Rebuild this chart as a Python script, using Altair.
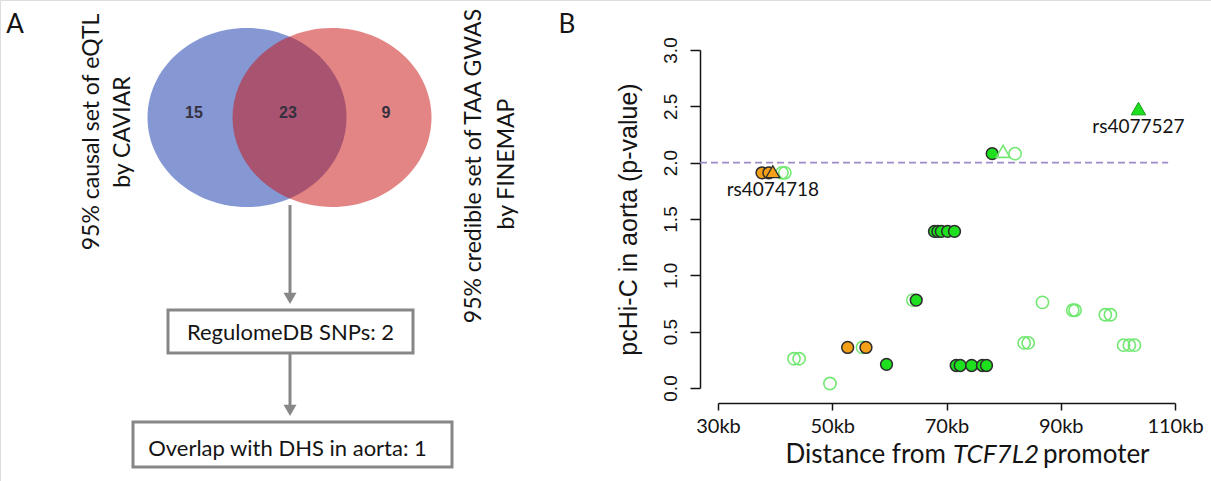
import altair as alt
import pandas as pd

# ---------------- Panel A data ----------------
venn_counts = [15, 23, 9]
left_set_lines = ["95% causal set of eQTL", "by CAVIAR"]
right_set_lines = ["95% credible set of TAA GWAS", "by FINEMAP"]
flow_steps = ["RegulomeDB SNPs: 2", "Overlap with DHS in aorta: 1"]
panel_letters = ["A", "B"]

# ---------------- Panel B data (kb from TCF7L2 promoter, pcHi-C p-value) ----------------
filled_kb = [78.0, 67.9, 68.5, 69.1, 70.2, 71.4, 64.7, 59.5, 71.7, 72.4, 74.4, 76.3, 77.0]
filled_p = [2.08, 1.39, 1.39, 1.39, 1.39, 1.39, 0.78, 0.21, 0.20, 0.20, 0.20, 0.20, 0.20]
open_kb = [41.2, 41.7, 82.0, 64.1, 55.3, 43.3, 44.2, 49.6, 86.8, 92.1, 92.5,
           97.8, 98.7, 101.0, 102.0, 102.9, 83.6, 84.3]
open_p = [1.91, 1.91, 2.08, 0.78, 0.36, 0.26, 0.26, 0.04, 0.76, 0.69, 0.69,
          0.65, 0.65, 0.38, 0.38, 0.38, 0.40, 0.40]
orange_kb = [37.7, 38.9, 52.7, 55.9]
orange_p = [1.91, 1.91, 0.36, 0.36]
orange_tri_kb = [39.6]
orange_tri_p = [1.92]
green_tri_kb = [103.6]
green_tri_p = [2.48]
open_tri_kb = [79.9]
open_tri_p = [2.10]
snp_labels = ["rs4074718", "rs4077527"]
snp_kb = [39.6, 103.6]
snp_p = [1.92, 2.48]
threshold = [2.0]
threshold_span_kb = [26.85, 108.8]
x_ticks = [30, 50, 70, 90, 110]
y_ticks = [0.0, 0.5, 1.0, 1.5, 2.0, 2.5, 3.0]
x_title_parts = ["Distance from", "TCF7L2", "promoter"]
y_title = "pcHi-C in aorta (p-value)"

# ---------------- layout ----------------
W, H = 1211, 481
xA = alt.Scale(domain=[0, W], range=[0, W], nice=False, zero=False)
yA = alt.Scale(domain=[0, H], range=[0, H], nice=False, zero=False)
xB = alt.Scale(domain=[30, 110], range=[718, 1175], nice=False, zero=False)
yB = alt.Scale(domain=[0, 3], range=[388, 50], nice=False, zero=False)

SANS = "Lato"
ARIAL = "Liberation Sans"
INK = "#141414"

# ---------- Panel A ----------
venn_rx, venn_ry = 99.5, 89.5
ell = "M-1,0A1,0.9,0,1,1,1,0A1,0.9,0,1,1,-1,0Z"
venn_df = pd.DataFrame({"cx": [247, 332], "cy": [117.5, 117.5]})

def ax(field):
    return alt.X(field, type="quantitative", scale=xA, axis=None)

def ay(field):
    return alt.Y(field, type="quantitative", scale=yA, axis=None)

blue = alt.Chart(venn_df.iloc[[0]]).mark_point(
    shape=ell, size=(2 * venn_rx) ** 2, filled=True, fill="#8598d4",
    opacity=1, strokeWidth=0).encode(x=ax("cx"), y=ay("cy"))
red = alt.Chart(venn_df.iloc[[1]]).mark_point(
    shape=ell, size=(2 * venn_rx) ** 2, filled=True, fill="#c91515",
    opacity=0.52, strokeWidth=0).encode(x=ax("cx"), y=ay("cy"))

counts_df = pd.DataFrame({"x": [194, 288, 386], "y": [113, 113, 113],
                          "n": [str(v) for v in venn_counts]})
counts = alt.Chart(counts_df).mark_text(
    font=ARIAL, fontSize=16, fontWeight="bold", color="#36303f",
    align="center", baseline="middle").encode(x=ax("x"), y=ay("y"), text="n:N")

set_df = pd.DataFrame({
    "x": [92, 123, 474, 507],
    "y": [132, 132, 166, 164],
    "t": left_set_lines + right_set_lines})
set_labels = alt.Chart(set_df).mark_text(
    font=SANS, fontSize=23, color=INK, angle=270,
    align="center", baseline="middle").encode(x=ax("x"), y=ay("y"), text="t:N")

letters_df = pd.DataFrame({"x": [15, 567], "y": [25, 25], "t": panel_letters})
letters = alt.Chart(letters_df).mark_text(
    font=SANS, fontSize=26, color=INK, align="center", baseline="middle"
).encode(x=ax("x"), y=ay("y"), text="t:N")

box_df = pd.DataFrame({"x": [168, 133], "x2": [413, 452], "y": [310, 422],
                       "y2": [353, 467], "tx": [290.5, 287.5], "ty": [333, 449],
                       "t": flow_steps})
boxes = alt.Chart(box_df).mark_rect(fill="white", stroke="#878787", strokeWidth=3).encode(
    x=ax("x"), x2="x2", y=ay("y"), y2="y2")
box_text = alt.Chart(box_df).mark_text(
    font=SANS, fontSize=22, color=INK, align="center", baseline="middle"
).encode(x=ax("tx"), y=ay("ty"), text="t:N")

arrow_df = pd.DataFrame({"x": [290, 290], "y": [205, 353], "tip": [304, 416]})
arrow_df["base"] = arrow_df["tip"] - 8
arrow_df["head"] = arrow_df["tip"] - 5.6
arrow_lines = alt.Chart(arrow_df).mark_rule(color="#878787", strokeWidth=3).encode(
    x=ax("x"), y=ay("y"), y2="base")
arrow_heads = alt.Chart(arrow_df).mark_point(
    shape="triangle-down", size=169, filled=True, fill="#878787", opacity=1,
    strokeWidth=0).encode(x=ax("x"), y=ay("head"))

# x-axis title of panel B (mixed italic) placed in page space
xt_df = pd.DataFrame({"x": [946, 953, 1043], "y": [455, 455, 455], "t": x_title_parts})
xt1 = alt.Chart(xt_df.iloc[[0]]).mark_text(font=SANS, fontSize=26, color=INK, align="right",
                                          baseline="middle").encode(x=ax("x"), y=ay("y"), text="t:N")
xt2 = alt.Chart(xt_df.iloc[[1]]).mark_text(font=SANS, fontSize=26, color=INK, align="left",
                                          fontStyle="italic", baseline="middle").encode(x=ax("x"), y=ay("y"), text="t:N")
xt3 = alt.Chart(xt_df.iloc[[2]]).mark_text(font=SANS, fontSize=26, color=INK, align="left",
                                          baseline="middle").encode(x=ax("x"), y=ay("y"), text="t:N")

panelA = alt.layer(blue, red, counts, set_labels, letters, arrow_lines, arrow_heads,
                   boxes, box_text, xt1, xt2, xt3)

# ---------- Panel B ----------
x_axis = alt.Axis(values=x_ticks, labelExpr="datum.value + 'kb'", orient="bottom",
                  offset=-78, tickSize=7, tickWidth=1.5, domainWidth=1.5,
                  domainColor=INK, tickColor=INK, labelFont=SANS, labelFontSize=20,
                  labelColor=INK, labelPadding=6, title=None, grid=False,
                  labelFlush=False, labelOverlap=False)
y_axis = alt.Axis(values=y_ticks, format=".1f", orient="left", offset=-700,
                  tickSize=10, tickWidth=1.5, domainWidth=1.5, domainColor=INK,
                  tickColor=INK, labelAngle=270, labelAlign="center",
                  labelBaseline="bottom", labelPadding=10, labelFont=ARIAL,
                  labelFontSize=19, labelColor=INK, title=y_title, titleFont=ARIAL,
                  titleFontSize=25, titleFontWeight="normal", titleColor=INK,
                  titleAngle=270, titleX=-72, titleY=219, titleAlign="center",
                  titleBaseline="middle", grid=False, labelFlush=False,
                  labelOverlap=False)

def bx(field):
    return alt.X(field, type="quantitative", scale=xB, axis=x_axis)

def by(field):
    return alt.Y(field, type="quantitative", scale=yB, axis=y_axis)

thr_df = pd.DataFrame({"x": [threshold_span_kb[0]], "x2": [threshold_span_kb[1]],
                       "y": threshold})
thr = alt.Chart(thr_df).mark_rule(color="#a08cc8", strokeWidth=1.6,
                                  strokeDash=[7, 4]).encode(
    x=bx("x"), x2="x2", y=by("y"))

open_df = pd.DataFrame({"kb": open_kb, "p": open_p})
opens = alt.Chart(open_df).mark_point(shape="circle", filled=False, stroke="#72e872",
                                      strokeWidth=1.6, size=150, opacity=1).encode(
    x=bx("kb"), y=by("p"))

filled_df = pd.DataFrame({"kb": filled_kb, "p": filled_p})
filled = alt.Chart(filled_df).mark_point(shape="circle", filled=True, fill="#1ee01e",
                                         stroke="#2c2c2c", strokeWidth=1.5, size=140,
                                         opacity=1).encode(x=bx("kb"), y=by("p"))

orange_df = pd.DataFrame({"kb": orange_kb, "p": orange_p})
oranges = alt.Chart(orange_df).mark_point(shape="circle", filled=True, fill="#f5a019",
                                          stroke="#2c2c2c", strokeWidth=1.5, size=140,
                                          opacity=1).encode(x=bx("kb"), y=by("p"))

otri = alt.Chart(pd.DataFrame({"kb": orange_tri_kb, "p": orange_tri_p})).mark_point(
    shape="triangle-up", filled=True, fill="#f5a019", stroke="#2c2c2c", strokeWidth=1.3,
    size=190, opacity=1).encode(x=bx("kb"), y=by("p"))
gtri = alt.Chart(pd.DataFrame({"kb": green_tri_kb, "p": green_tri_p})).mark_point(
    shape="triangle-up", filled=True, fill="#1ee01e", stroke="#189a18", strokeWidth=1,
    size=210, opacity=1).encode(x=bx("kb"), y=by("p"))
opentri = alt.Chart(pd.DataFrame({"kb": open_tri_kb, "p": open_tri_p})).mark_point(
    shape="triangle-up", filled=False, stroke="#72e872", strokeWidth=1.6,
    size=190, opacity=1).encode(x=bx("kb"), y=by("p"))

lab_df = pd.DataFrame({"kb": snp_kb, "p": snp_p, "t": snp_labels})
labels = alt.Chart(lab_df).mark_text(font=SANS, fontSize=19, color=INK, align="center",
                                     baseline="middle", dy=18).encode(
    x=bx("kb"), y=by("p"), text="t:N")

panelB = alt.layer(thr, opens, filled, oranges, otri, opentri, gtri, labels)

chart = alt.layer(panelA, panelB).resolve_scale(x="independent", y="independent").properties(
    width=W, height=H, autosize=alt.AutoSizeParams(type="none"), padding=0
).configure_view(stroke=None).configure(background="white")

chart.save("out.html", embed_options={"renderer": "svg", "actions": False})
